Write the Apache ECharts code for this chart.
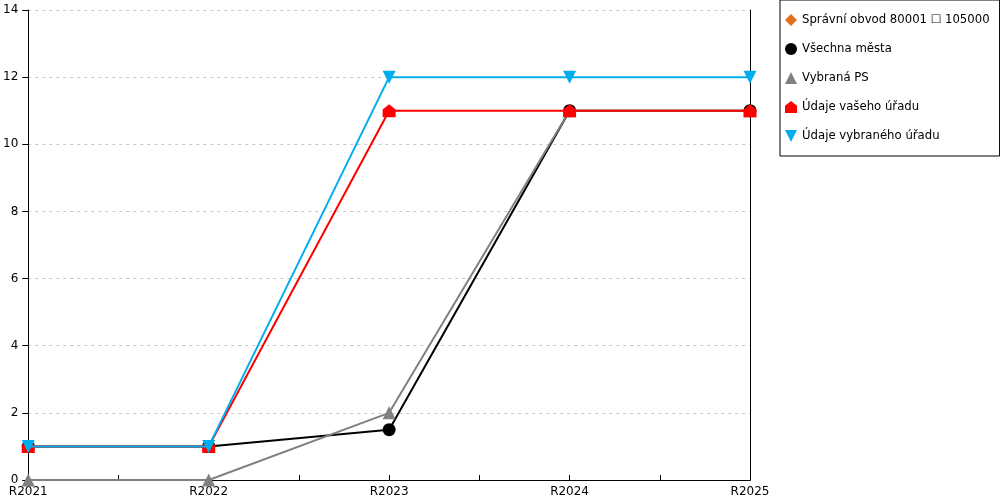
<!DOCTYPE html>
<html>
<head>
<meta charset="utf-8">
<script src="https://cdn.jsdelivr.net/npm/echarts@6/dist/echarts.min.js"></script>
<style>html,body{margin:0;padding:0;background:#fff}#c{width:1000px;height:500px}</style>
</head>
<body>
<div id="c"></div>
<script>
const categories = ['R2021', 'R2022', 'R2023', 'R2024', 'R2025'];
const seriesNames = ['Správní obvod 80001 \u2610 105000', 'Všechna města', 'Vybraná PS', 'Údaje vašeho úřadu', 'Údaje vybraného úřadu'];
const spravniObvod = [];
const vsechnaMesta = [1, 1, 1.5, 11, 11];
const vybranaPS = [0, 0, 2, 11, 11];
const udajeVasehoUradu = [1, 1, 11, 11, 11];
const udajeVybranehoUradu = [1, 1, 12, 12, 12];
const yTicks = [0, 2, 4, 6, 8, 10, 12, 14];

const HOUSE = 'path://M0,4 L5,0 L10,4 L10,10 L0,10 Z';
const DOWN = 'path://M0,0 L10,0 L5,10 Z';
const colors = ['#e07020', '#000000', '#808080', '#ff0000', '#00aeef'];
const symbols = ['diamond', 'circle', 'triangle', HOUSE, DOWN];
const values = [spravniObvod, vsechnaMesta, vybranaPS, udajeVasehoUradu, udajeVybranehoUradu];

const chart = echarts.init(document.getElementById('c'), null, {renderer: 'canvas'});
const font = 'DejaVu Sans';
chart.setOption({
  animation: false,
  backgroundColor: '#fff',
  grid: {left: 28, right: 250, top: 10, bottom: 20},
  xAxis: {
    type: 'value', min: 0, max: categories.length - 1, interval: 0.5,
    axisLine: {show: true, lineStyle: {color: '#000', width: 1}},
    axisTick: {show: true, inside: true, length: 5, lineStyle: {color: '#000'}},
    axisLabel: {
      color: '#000', fontFamily: font, fontSize: 12, margin: 6,
      showMinLabel: true, showMaxLabel: true,
      formatter: v => Number.isInteger(v) ? categories[v] : ''
    },
    splitLine: {show: false}
  },
  yAxis: [{
    type: 'value', min: yTicks[0], max: yTicks[yTicks.length - 1], interval: 2,
    axisLine: {show: true, lineStyle: {color: '#000', width: 1}},
    axisTick: {show: true, length: 6, lineStyle: {color: '#000'}},
    axisLabel: {color: '#000', fontFamily: font, fontSize: 12, margin: 10},
    splitLine: {show: true, lineStyle: {color: '#c8c8c8', type: [3, 4], width: 1}}
  }, {
    type: 'value', min: 0, max: 14, position: 'right',
    axisLine: {show: true, onZero: false, lineStyle: {color: '#000', width: 1}},
    axisTick: {show: false}, axisLabel: {show: false}, splitLine: {show: false}
  }],
  legend: {
    orient: 'vertical', left: 780, top: 0,
    padding: [14, 10, 14, 5],
    itemWidth: 12, itemHeight: 12, itemGap: 17,
    borderColor: '#000', borderWidth: 1, backgroundColor: '#fff',
    textStyle: {color: '#000', fontFamily: font, fontSize: 11.7},
    data: seriesNames.map((n, i) => ({name: n, icon: symbols[i], itemStyle: {color: colors[i]}}))
  },
  series: seriesNames.map((n, i) => ({
    name: n, type: 'line',
    data: values[i].map((v, j) => [j, v]),
    symbol: symbols[i], symbolSize: 13, showAllSymbol: true,
    color: colors[i],
    lineStyle: {color: colors[i], width: 2},
    itemStyle: {color: colors[i]},
    z: 2 + i
  }))
});
</script>
</body>
</html>
